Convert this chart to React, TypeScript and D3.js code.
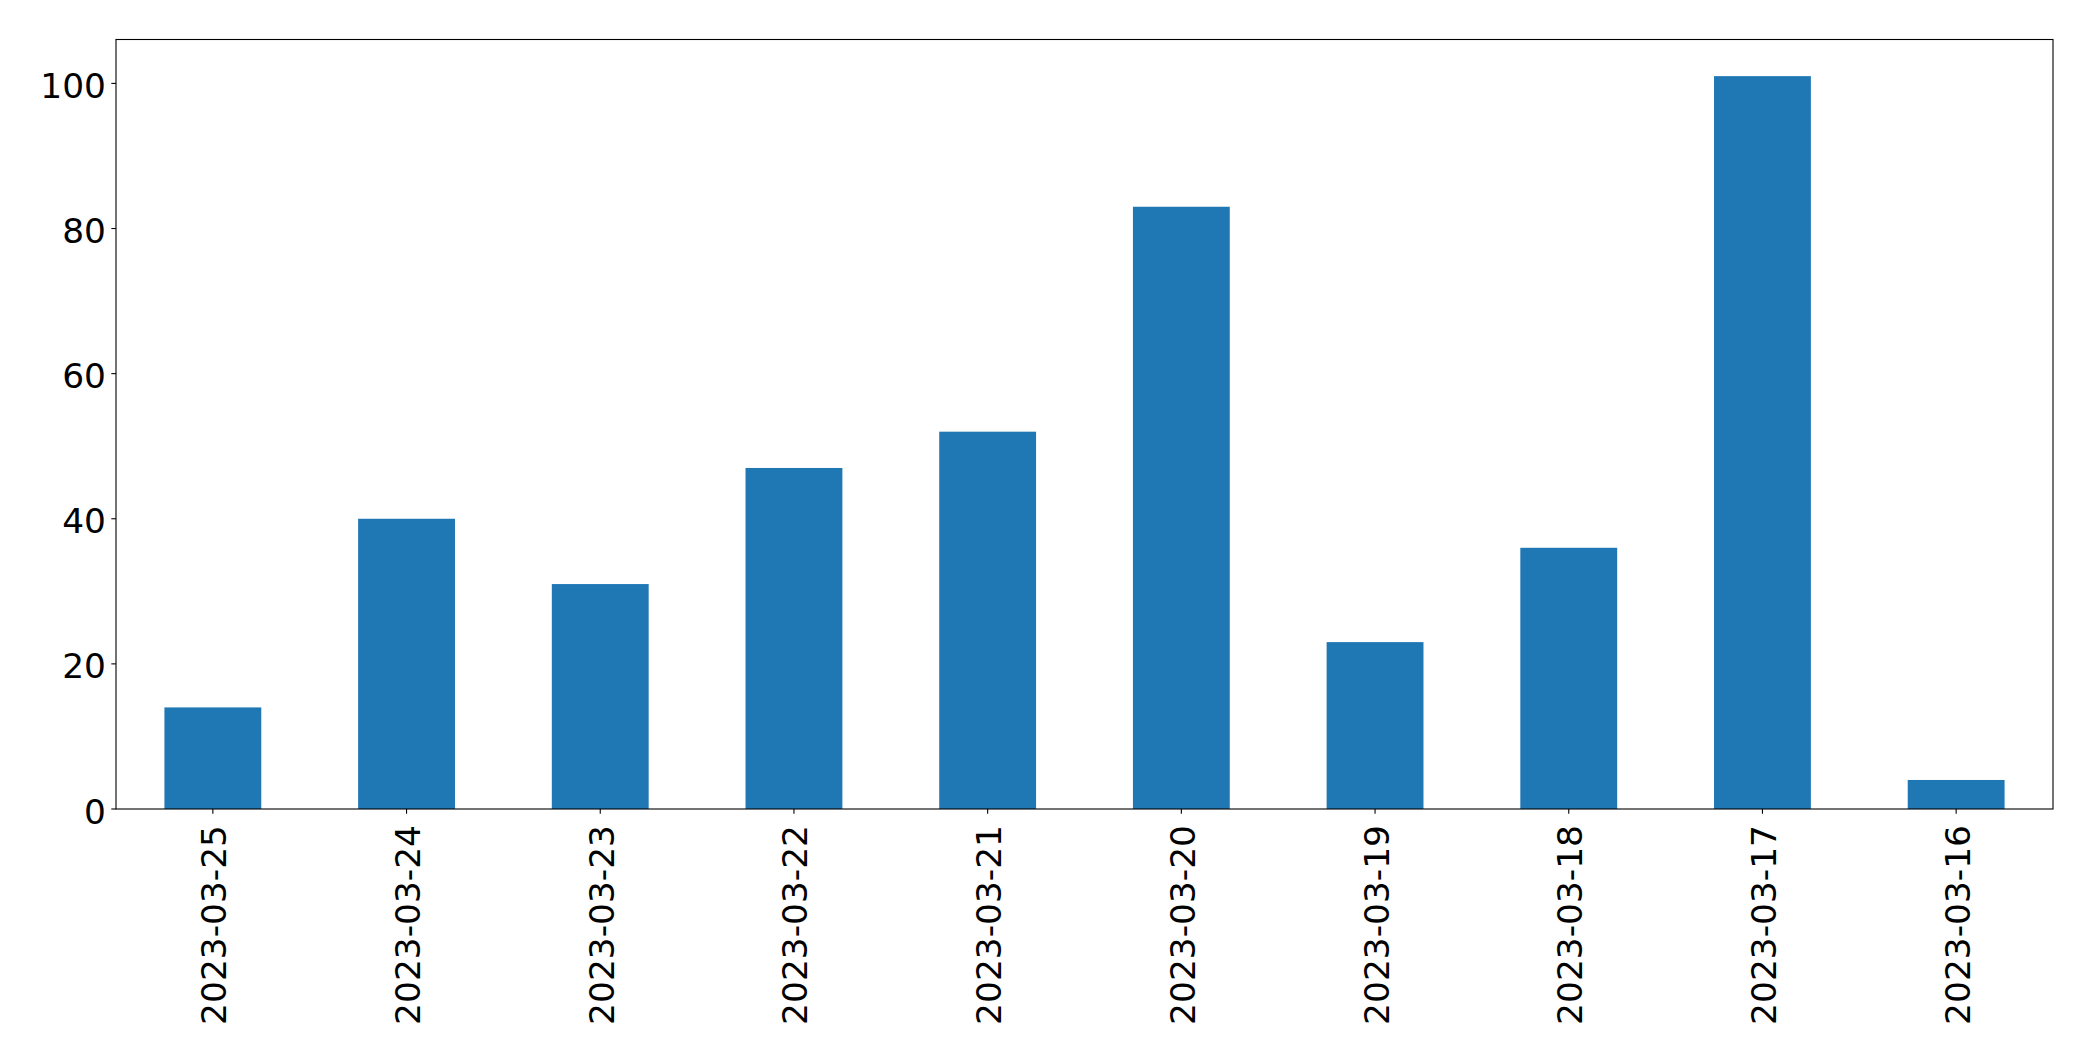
import React from "react";
import * as d3 from "d3";

const categories = ["2023-03-25", "2023-03-24", "2023-03-23", "2023-03-22", "2023-03-21", "2023-03-20", "2023-03-19", "2023-03-18", "2023-03-17", "2023-03-16"];
const values = [14, 40, 31, 47, 52, 83, 23, 36, 101, 4];
const yTicks = [0, 20, 40, 60, 80, 100];

const W = 2093, H = 1061;
const left = 116, right = 2053, top = 39.5, bottom = 809;
const FONT = "'DejaVu Sans', sans-serif";
const FS = 34.4;

export default function App() {
  const x = d3.scaleBand<string>().domain(categories).range([left, right]).paddingInner(0.5).paddingOuter(0.25);
  const yMax = (d3.max(values) as number) * 1.05;
  const y = d3.scaleLinear().domain([0, yMax]).range([bottom, top]);
  return (
    <svg width={W} height={H} style={{ position: "absolute", left: 0, top: 0, display: "block", background: "#fff" }}>
      <rect x={0} y={0} width={W} height={H} fill="#fff" />
      {categories.map((c, i) => (
        <rect key={c} x={x(c)} y={y(values[i])} width={x.bandwidth()} height={y(0) - y(values[i])} fill="#1f77b4" />
      ))}
      <rect x={left} y={top} width={right - left} height={bottom - top} fill="none" stroke="#000" strokeWidth={1.1} />
      {yTicks.map((t) => (
        <g key={t}>
          <line x1={left - 4.7} x2={left} y1={y(t)} y2={y(t)} stroke="#000" strokeWidth={1.1} />
          <text x={left - 10} y={y(t) + 14.5} textAnchor="end" fontFamily={FONT} fontSize={FS} fill="#000">{t}</text>
        </g>
      ))}
      {categories.map((c) => {
        const cx = (x(c) as number) + x.bandwidth() / 2;
        return (
          <g key={c}>
            <line x1={cx} x2={cx} y1={bottom} y2={bottom + 4.7} stroke="#000" strokeWidth={1.1} />
            <text transform={`translate(${cx + 13.5},${bottom + 16}) rotate(-90)`} textAnchor="end" fontFamily={FONT} fontSize={FS} fill="#000">{c}</text>
          </g>
        );
      })}
    </svg>
  );
}
